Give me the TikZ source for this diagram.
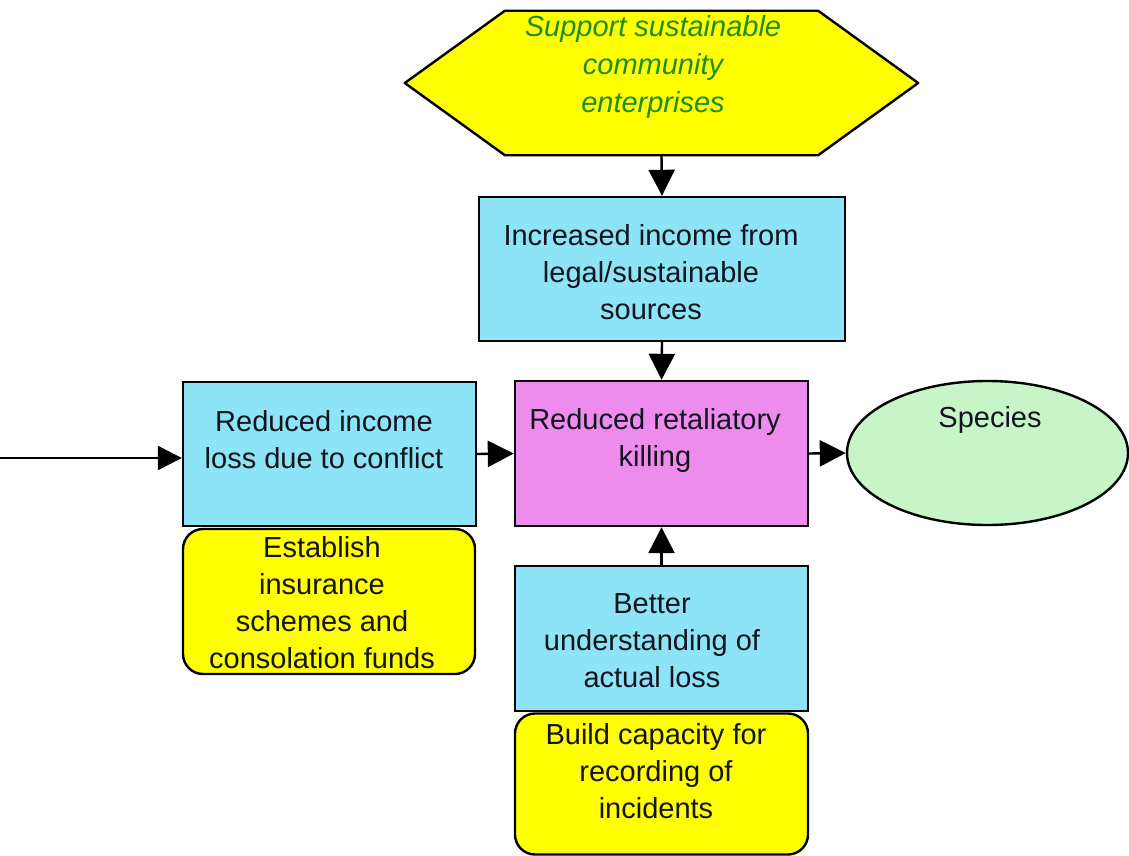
\documentclass[tikz,border=0pt]{standalone}
\usepackage{fontspec}
\setmainfont{Liberation Sans}
\usetikzlibrary{arrows.meta,shapes.geometric}
\definecolor{boxblue}{RGB}{140,228,246}
\definecolor{boxpink}{RGB}{238,140,238}
\definecolor{boxyellow}{RGB}{255,255,0}
\definecolor{ellgreen}{RGB}{200,245,200}
\definecolor{txtgreen}{RGB}{30,140,30}
\definecolor{txtdark}{RGB}{20,20,30}
\begin{document}
\begin{tikzpicture}[x=1pt,y=-1pt,
  box/.style={draw=black, line width=2.4pt, inner sep=0pt},
  bluebox/.style={box, fill=boxblue},
  pinkbox/.style={box, fill=boxpink},
  actbox/.style={box, fill=boxyellow, rounded corners=20pt},
  lbl/.style={align=center, text=txtdark, font=\fontsize{29}{37}\selectfont},
  hexlbl/.style={align=center, text=txtgreen, font=\fontsize{29}{38}\selectfont\itshape},
  link/.style={line width=2.4pt, -{Triangle[length=26pt,width=26pt]}},
  longlink/.style={line width=2.4pt, -{Triangle[length=24pt,width=24pt]}}]
\useasboundingbox (0,0) rectangle (1129,856);

% strategy hexagon
\node[minimum width=513pt, minimum height=144pt, inner sep=0pt] (hex) at (661.5,83) {};
\filldraw[fill=boxyellow, draw=black, line width=2.4pt, line join=round]
  (hex.west) -- ([xshift=100pt]hex.north west) -- ([xshift=-100pt]hex.north east)
  -- (hex.east) -- ([xshift=-100pt]hex.south east) -- ([xshift=100pt]hex.south west) -- cycle;
\node[hexlbl] at (653,67) {Support sustainable\\community\\enterprises};

% result chain
\node[bluebox, minimum width=366pt, minimum height=144pt] (inc) at (662,269) {};
\node[lbl] at (651,272.5) {Increased income from\\legal/sustainable\\sources};

\node[pinkbox, minimum width=293pt, minimum height=145pt] (kill) at (661.5,453.5) {};
\node[lbl] at (655,440) {Reduced retaliatory\\killing};

\node[bluebox, minimum width=293pt, minimum height=144pt] (loss) at (329.5,454) {};
\node[lbl] at (324,440) {Reduced income\\loss due to conflict};

\node[actbox, minimum width=292pt, minimum height=145pt] (ins) at (329,601.5) {};
\node[lbl] at (322,603) {Establish\\insurance\\schemes and\\consolation funds};

\node[bluebox, minimum width=293pt, minimum height=145pt] (und) at (661.5,638.5) {};
\node[lbl] at (652,641) {Better\\understanding of\\actual loss};

\node[actbox, minimum width=293pt, minimum height=141pt] (cap) at (661.5,784) {};
\node[lbl] at (656,771) {Build capacity for\\recording of\\incidents};

% target
\node[ellipse, draw=black, line width=2.4pt, fill=ellgreen, inner sep=0pt,
      minimum width=281pt, minimum height=144pt] (sp) at (987.5,453) {};
\node[lbl] at (990,420) {Species};

% connectors
\coordinate (src) at (0,458);
\draw[link] (hex.south) -- (inc.north);
\draw[link] (inc.south) -- (kill.north);
\draw[link] (und.north) -- (kill.south);
\draw[link] (loss.east) -- (kill.west);
\draw[link] (kill.east) -- (sp.west);
\draw[longlink] (src) -- (src -| loss.west);
\end{tikzpicture}
\end{document}
